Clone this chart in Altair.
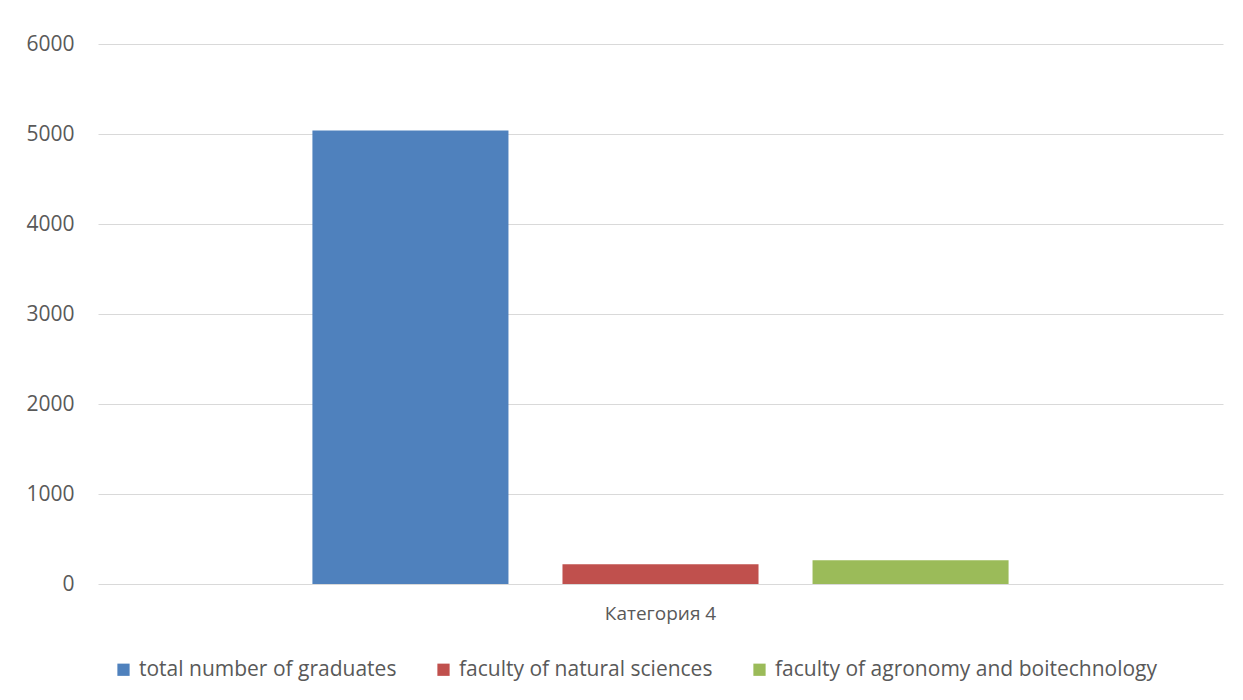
import altair as alt
import pandas as pd

categories = ["Категория 4", "Категория 4", "Категория 4"]
series = ["total number of graduates", "faculty of natural sciences", "faculty of agronomy and boitechnology"]
values = [5040, 220, 265]
colors = ["#4f81bd", "#c0504d", "#9bbb59"]
y_ticks = [0, 1000, 2000, 3000, 4000, 5000, 6000]

df = pd.DataFrame({"category": categories, "series": series, "value": values})

FONT = "Open Sans"
TXT = "#595959"

chart = alt.Chart(df).mark_bar().encode(
    x=alt.X("category:N", title=None,
            scale=alt.Scale(paddingOuter=0.308, paddingInner=0),
            axis=alt.Axis(labelAngle=0, domain=False, ticks=False, grid=False,
                          labelFont=FONT, labelFontSize=19, labelColor=TXT, labelPadding=20)),
    xOffset=alt.XOffset("series:N", sort=series,
                        scale=alt.Scale(paddingInner=0.216, paddingOuter=0)),
    y=alt.Y("value:Q", title=None, scale=alt.Scale(domain=[0, 6000]),
            axis=alt.Axis(values=y_ticks, format="d", domain=False, ticks=False, grid=True,
                          gridColor="#d9d9d9", gridWidth=1,
                          labelFont=FONT, labelFontSize=21, labelColor=TXT, labelPadding=24)),
    color=alt.Color("series:N", sort=series,
                    scale=alt.Scale(domain=series, range=colors),
                    legend=alt.Legend(title=None, orient="none", direction="horizontal",
                                      legendX=15, legendY=615,
                                      symbolType="square", symbolSize=150,
                                      symbolStrokeWidth=0, labelFont=FONT, labelFontSize=21,
                                      labelColor=TXT, columnPadding=36, labelOffset=5,
                                      labelLimit=0)),
).properties(
    width=1125, height=540,
    autosize=alt.AutoSizeParams(type="none"),
    padding={"left": 90, "top": 36, "right": 12, "bottom": 108},
).configure_view(stroke=None)

chart.save("out.html", embed_options={"renderer": "svg", "actions": False})
